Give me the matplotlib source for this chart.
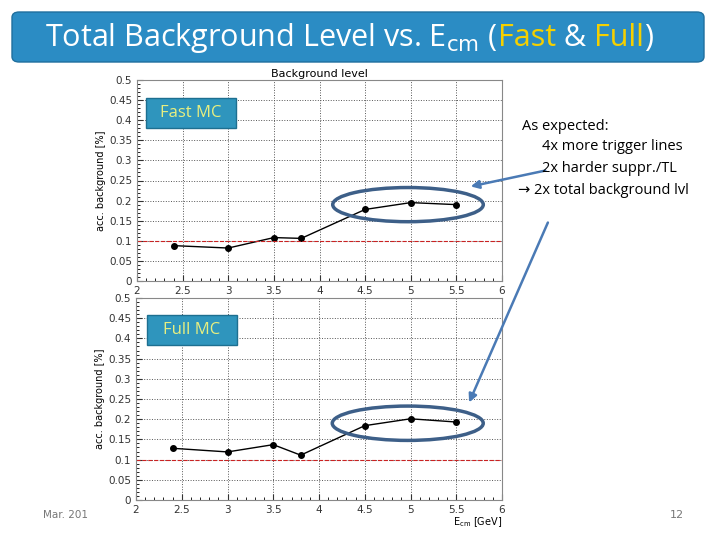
import numpy as np
import matplotlib.pyplot as plt
from matplotlib.patches import FancyBboxPatch, Ellipse, FancyArrowPatch

energia = [2.4, 3.0, 3.5, 3.8, 4.5, 5.0, 5.5]
fondo_fast = [0.088, 0.082, 0.108, 0.106, 0.178, 0.195, 0.190]
fondo_full = [0.128, 0.119, 0.137, 0.111, 0.184, 0.201, 0.193]
yticks = [0, 0.05, 0.1, 0.15, 0.2, 0.25, 0.3, 0.35, 0.4, 0.45, 0.5]
xticks = [2, 2.5, 3, 3.5, 4, 4.5, 5, 5.5, 6]

fig = plt.figure(figsize=(7.2, 5.4), dpi=100)
W, H = 720, 540

def px(x0, y0, x1, y1):
    # caja en pixeles (origen arriba izquierda) -> coords de figura
    return [x0 / W, 1 - y1 / H, (x1 - x0) / W, (y1 - y0) / H]

# barra de titulo
barra = FancyBboxPatch((12 / W, 1 - 62 / H), 692 / W, 50 / H, boxstyle="round,pad=0,rounding_size=0.01",
                       transform=fig.transFigure, facecolor="#2b8cc4", edgecolor="#1f6f9e", lw=1)
fig.patches.append(barra)

partes = [("Total Background Level vs. E$_{\\mathrm{cm}}$ (", "white"), ("Fast", "#f5d000"),
          (" & ", "white"), ("Full", "#f5d000"), (")", "white")]
fig.canvas.draw()
r = fig.canvas.get_renderer()
x = 45
for txt, col in partes:
    t = fig.text(x / W, 1 - 38 / H, txt, color=col, fontsize=22, family="Open Sans", va="center")
    x += t.get_window_extent(r).width

def panel(rect, valores, etiqueta, caja, con_xlabel):
    ax = fig.add_axes(rect)
    ax.plot(energia, valores, color="black", lw=1, marker="o", ms=4)
    ax.axhline(0.1, color="#cc2222", ls="--", lw=0.8)
    ax.set_xlim(2, 6)
    ax.set_ylim(0, 0.5)
    ax.set_xticks(xticks)
    ax.set_xticklabels([f"{v:g}" for v in xticks])
    ax.set_yticks(yticks)
    ax.set_yticklabels([f"{v:g}" for v in yticks])
    ax.tick_params(labelsize=7.5, direction="in", length=4, colors="#333333")
    ax.minorticks_on()
    ax.tick_params(which="minor", direction="in", length=2)
    ax.grid(True, ls=":", color="#555555", lw=0.7)
    ax.set_ylabel("acc. background [%]", fontsize=7, labelpad=2)
    for s in ax.spines.values():
        s.set_color("#888888")
    ax.add_patch(Ellipse((4.97, 0.19), 1.65, 0.085, fill=False, edgecolor="#3d5f88", lw=2.5, zorder=5))
    if con_xlabel:
        ax.set_xlabel("E$_{\\mathrm{cm}}$ [GeV]", fontsize=7, loc="right", labelpad=0)
    b = FancyBboxPatch((caja[0] / W, 1 - caja[1] / H), 90 / W, 30 / H, boxstyle="square,pad=0",
                       transform=fig.transFigure, facecolor="#2f95bd", edgecolor="#1d6f90", lw=1, zorder=10)
    fig.patches.append(b)
    fig.text((caja[0] + 45) / W, 1 - (caja[1] - 15) / H, etiqueta, color="#e8ef80", fontsize=12,
             family="Open Sans", ha="center", va="center", zorder=11)
    return ax

ax1 = panel(px(137, 80, 502, 281), fondo_fast, "Fast MC", (146, 128), False)
ax1.set_title("Background level", fontsize=8, pad=2)
ax2 = panel(px(136, 298, 502, 500), fondo_full, "Full MC", (147, 345), True)

for (x0, y0), (x1, y1) in [((548, 170), (468, 187)), ((549, 220), (468, 405))]:
    fig.patches.append(FancyArrowPatch((x0 / W, 1 - y0 / H), (x1 / W, 1 - y1 / H), transform=fig.transFigure,
                                       arrowstyle="-|>", mutation_scale=12, color="#4a7ab5", lw=1.8))

lineas = [("As expected:", 522, 126), ("4x more trigger lines", 542, 147),
          ("2x harder suppr./TL", 542, 169), ("\u2192 2x total background lvl", 518, 190)]
for txt, xx, yy in lineas:
    fig.text(xx / W, 1 - yy / H, txt, fontsize=10.5, family=["Open Sans", "DejaVu Sans"], va="center")

fig.text(43 / W, 1 - 515 / H, "Mar. 201", fontsize=7.5, color="#777777", va="center")
fig.text(670 / W, 1 - 515 / H, "12", fontsize=8, color="#777777", va="center")

fig.savefig("out.png", dpi=100)
